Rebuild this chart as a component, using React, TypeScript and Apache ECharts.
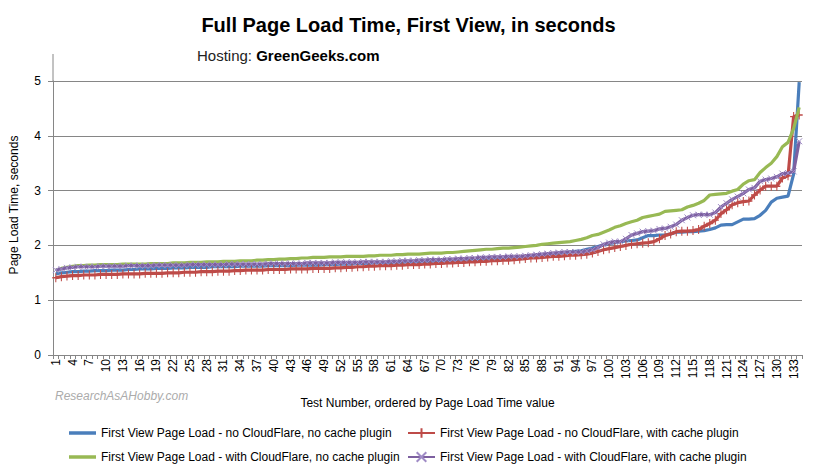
import React, { useEffect, useRef } from 'react';
import * as echarts from 'echarts';

const categories: string[] = Array.from({ length: 134 }, (_, i) => String(i + 1));

const seriesNames = [
  'First View Page Load - no CloudFlare, no cache plugin',
  'First View Page Load - no CloudFlare, with cache plugin',
  'First View Page Load - with CloudFlare, no cache plugin',
  'First View Page Load - with CloudFlare, with cache plugin',
];

const noCfNoCache = [
  1.48, 1.50, 1.51, 1.52, 1.52, 1.53, 1.53, 1.54, 1.54, 1.54,
  1.55, 1.55, 1.55, 1.56, 1.56, 1.57, 1.57, 1.57, 1.58, 1.58,
  1.58, 1.59, 1.59, 1.59, 1.60, 1.60, 1.60, 1.60, 1.61, 1.61,
  1.61, 1.61, 1.61, 1.62, 1.62, 1.62, 1.62, 1.62, 1.63, 1.63,
  1.63, 1.63, 1.63, 1.64, 1.64, 1.64, 1.64, 1.64, 1.65, 1.65,
  1.65, 1.66, 1.66, 1.66, 1.67, 1.67, 1.67, 1.68, 1.68, 1.68,
  1.69, 1.69, 1.69, 1.70, 1.70, 1.70, 1.71, 1.71, 1.71, 1.72,
  1.72, 1.72, 1.73, 1.73, 1.74, 1.74, 1.75, 1.75, 1.76, 1.76,
  1.77, 1.77, 1.78, 1.78, 1.79, 1.80, 1.81, 1.82, 1.83, 1.84,
  1.85, 1.87, 1.88, 1.89, 1.90, 1.93, 1.95, 1.98, 2.01, 2.03,
  2.05, 2.07, 2.08, 2.09, 2.10, 2.14, 2.18, 2.18, 2.19, 2.19,
  2.21, 2.24, 2.24, 2.25, 2.25, 2.26, 2.27, 2.29, 2.32, 2.37,
  2.38, 2.38, 2.43, 2.48, 2.48, 2.49, 2.55, 2.64, 2.79, 2.86,
  2.88, 2.90, 3.30, 4.98,
];

const noCfWithCache = [
  1.41, 1.43, 1.44, 1.45, 1.45, 1.46, 1.46, 1.46, 1.47, 1.47,
  1.47, 1.47, 1.48, 1.48, 1.48, 1.48, 1.49, 1.49, 1.49, 1.49,
  1.50, 1.50, 1.50, 1.51, 1.51, 1.51, 1.52, 1.52, 1.52, 1.53,
  1.53, 1.53, 1.54, 1.54, 1.55, 1.55, 1.55, 1.55, 1.56, 1.56,
  1.56, 1.56, 1.57, 1.57, 1.57, 1.57, 1.58, 1.58, 1.58, 1.58,
  1.59, 1.59, 1.60, 1.60, 1.61, 1.61, 1.62, 1.62, 1.63, 1.63,
  1.63, 1.64, 1.64, 1.65, 1.65, 1.65, 1.66, 1.66, 1.67, 1.67,
  1.68, 1.68, 1.69, 1.69, 1.70, 1.70, 1.71, 1.71, 1.72, 1.72,
  1.73, 1.73, 1.74, 1.75, 1.76, 1.77, 1.77, 1.78, 1.79, 1.80,
  1.80, 1.81, 1.82, 1.82, 1.83, 1.84, 1.86, 1.89, 1.92, 1.94,
  1.96, 1.98, 2.00, 2.02, 2.03, 2.04, 2.05, 2.07, 2.12, 2.18,
  2.21, 2.25, 2.26, 2.26, 2.27, 2.29, 2.35, 2.40, 2.46, 2.58,
  2.65, 2.74, 2.78, 2.80, 2.81, 2.92, 3.01, 3.08, 3.08, 3.08,
  3.23, 3.27, 4.35, 4.38,
];

const cfNoCache = [
  1.54, 1.58, 1.60, 1.62, 1.63, 1.63, 1.64, 1.64, 1.65, 1.65,
  1.65, 1.65, 1.66, 1.66, 1.66, 1.66, 1.66, 1.67, 1.67, 1.67,
  1.67, 1.68, 1.68, 1.68, 1.69, 1.69, 1.69, 1.70, 1.70, 1.70,
  1.71, 1.71, 1.71, 1.72, 1.72, 1.72, 1.73, 1.73, 1.74, 1.74,
  1.75, 1.75, 1.76, 1.76, 1.77, 1.77, 1.78, 1.78, 1.78, 1.79,
  1.79, 1.79, 1.80, 1.80, 1.80, 1.80, 1.81, 1.81, 1.82, 1.82,
  1.82, 1.83, 1.83, 1.84, 1.84, 1.84, 1.85, 1.86, 1.86, 1.86,
  1.87, 1.87, 1.88, 1.89, 1.90, 1.91, 1.92, 1.93, 1.93, 1.94,
  1.95, 1.95, 1.96, 1.97, 1.98, 1.99, 2.00, 2.02, 2.03, 2.04,
  2.05, 2.06, 2.07, 2.09, 2.11, 2.14, 2.18, 2.20, 2.24, 2.28,
  2.33, 2.36, 2.40, 2.43, 2.46, 2.51, 2.53, 2.55, 2.57, 2.62,
  2.63, 2.64, 2.65, 2.70, 2.73, 2.77, 2.82, 2.92, 2.93, 2.94,
  2.95, 2.99, 3.02, 3.12, 3.18, 3.20, 3.33, 3.42, 3.50, 3.62,
  3.80, 3.88, 4.13, 4.52,
];

const cfWithCache = [
  1.55, 1.57, 1.59, 1.60, 1.61, 1.61, 1.61, 1.61, 1.62, 1.62,
  1.62, 1.62, 1.62, 1.63, 1.63, 1.63, 1.63, 1.63, 1.64, 1.64,
  1.64, 1.64, 1.64, 1.64, 1.65, 1.65, 1.65, 1.65, 1.65, 1.65,
  1.65, 1.66, 1.66, 1.66, 1.66, 1.66, 1.66, 1.66, 1.67, 1.67,
  1.67, 1.67, 1.67, 1.67, 1.67, 1.68, 1.68, 1.68, 1.68, 1.68,
  1.69, 1.69, 1.69, 1.69, 1.69, 1.70, 1.70, 1.70, 1.70, 1.70,
  1.71, 1.71, 1.72, 1.72, 1.72, 1.73, 1.73, 1.74, 1.74, 1.74,
  1.75, 1.75, 1.76, 1.76, 1.77, 1.77, 1.78, 1.78, 1.79, 1.79,
  1.79, 1.80, 1.80, 1.80, 1.81, 1.82, 1.83, 1.84, 1.85, 1.86,
  1.87, 1.88, 1.88, 1.88, 1.88, 1.90, 1.92, 1.96, 2.02, 2.05,
  2.07, 2.07, 2.12, 2.19, 2.22, 2.25, 2.26, 2.27, 2.30, 2.31,
  2.34, 2.38, 2.46, 2.51, 2.55, 2.56, 2.56, 2.56, 2.60, 2.70,
  2.77, 2.84, 2.89, 2.95, 3.02, 3.05, 3.17, 3.20, 3.22, 3.25,
  3.31, 3.32, 3.35, 3.90,
];

const seriesData = [noCfNoCache, noCfWithCache, cfNoCache, cfWithCache];
const seriesColors = ['#4a7ebb', '#be4b48', '#98b954', '#7d60a0'];

export default function App() {
  const ref = useRef<HTMLDivElement>(null);

  useEffect(() => {
    document.body.style.margin = '0';
    const chart = echarts.init(ref.current as HTMLDivElement, null, { renderer: 'svg' });
    const font = "'Liberation Sans', Arial, sans-serif";
    const axisGray = '#868686';
    const plus = 'path://M4,0L4,8M0,4L8,4';
    const cross = 'path://M0,0L8,8M8,0L0,8';
    const lineIcon = 'path://M0,0L27,0L27,3.5L0,3.5Z';

    const series = seriesData.map((data, i) => {
      const base: any = {
        name: seriesNames[i],
        type: 'line',
        data,
        lineStyle: { width: 3.2, color: seriesColors[i] },
        itemStyle: { color: seriesColors[i] },
        emphasis: { disabled: true },
        z: 2 + i,
      };
      if (i === 1) {
        base.symbol = plus;
        base.symbolSize = [7, 9];
        base.showAllSymbol = true;
        base.itemStyle = { color: seriesColors[i], borderColor: seriesColors[i], borderWidth: 1.2 };
      } else if (i === 3) {
        base.symbol = cross;
        base.symbolSize = 6;
        base.showAllSymbol = true;
        base.itemStyle = { color: seriesColors[i], borderColor: '#a08cc6', borderWidth: 1 };
      } else {
        base.symbol = 'none';
      }
      return base;
    });

    const legendBase = {
      orient: 'vertical',
      top: 427,
      padding: 0,
      itemWidth: 27,
      itemHeight: 12,
      itemGap: 12,
      selectedMode: false,
      textStyle: { fontSize: 12, color: '#000', fontFamily: font },
    };

    chart.setOption({
      animation: false,
      textStyle: { fontFamily: font },
      title: {
        text: 'Full Page Load Time, First View, in seconds',
        left: 'center',
        top: 10,
        textStyle: { fontSize: 20, fontWeight: 'bold', color: '#000', fontFamily: font },
      },
      legend: [
        {
          ...legendBase,
          left: 69,
          data: [
            { name: seriesNames[0], icon: lineIcon },
            { name: seriesNames[2], icon: lineIcon },
          ],
        },
        { ...legendBase, left: 407, data: [seriesNames[1], seriesNames[3]] },
      ],
      grid: { left: 53, right: 15, top: 81, bottom: 119 },
      xAxis: {
        type: 'category',
        data: categories,
        boundaryGap: true,
        axisLine: { lineStyle: { color: axisGray } },
        axisTick: { show: true, interval: 0, length: 4, lineStyle: { color: axisGray } },
        axisLabel: { interval: 2, rotate: 90, fontSize: 12, color: '#000', margin: 4, fontFamily: font },
        name: 'Test Number, ordered by Page Load Time value',
        nameLocation: 'middle',
        nameGap: 42,
        nameTextStyle: { fontSize: 12, color: '#000', fontFamily: font },
      },
      yAxis: {
        type: 'value',
        min: 0,
        max: 5,
        interval: 1,
        axisLine: { show: true, lineStyle: { color: axisGray } },
        axisTick: { show: true, length: 5, lineStyle: { color: axisGray } },
        axisLabel: { fontSize: 12, color: '#000', margin: 12, fontFamily: font },
        splitLine: { show: true, lineStyle: { color: axisGray } },
      },
      graphic: [
        {
          type: 'line',
          shape: { x1: 53, y1: 54, x2: 53, y2: 81 },
          style: { stroke: axisGray, lineWidth: 1 },
        },
        {
          type: 'text',
          x: 14,
          y: 205,
          rotation: Math.PI / 2,
          style: {
            text: 'Page Load Time, seconds',
            fontSize: 12,
            fill: '#000',
            align: 'center',
            verticalAlign: 'middle',
            fontFamily: font,
          },
        },
        {
          type: 'text',
          x: 197,
          y: 55,
          style: {
            text: '{a|Hosting: }{b|GreenGeeks.com}',
            verticalAlign: 'middle',
            rich: {
              a: { fontSize: 15, fill: '#222', fontFamily: font },
              b: { fontSize: 15, fontWeight: 'bold', fill: '#000', fontFamily: font },
            },
          },
        },
        {
          type: 'text',
          x: 55,
          y: 396,
          style: {
            text: 'ResearchAsAHobby.com',
            fontSize: 12,
            fontStyle: 'italic',
            fill: '#ababab',
            verticalAlign: 'middle',
            fontFamily: font,
          },
        },
      ],
      series,
    });

    return () => chart.dispose();
  }, []);

  return <div ref={ref} style={{ width: 817, height: 474 }} />;
}
